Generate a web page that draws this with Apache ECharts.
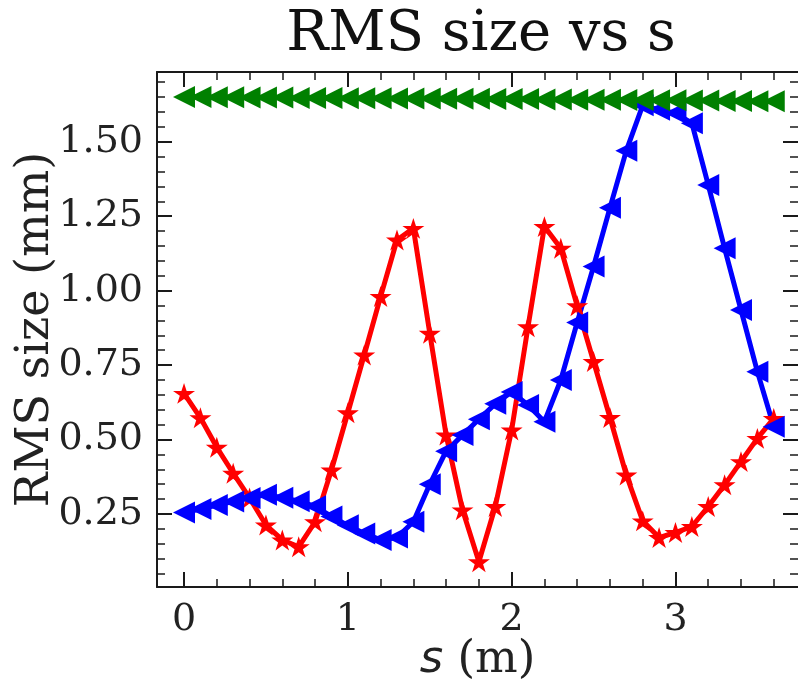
<!DOCTYPE html>
<html>
<head>
<meta charset="utf-8">
<script src="https://cdn.jsdelivr.net/npm/echarts@6/dist/echarts.min.js"></script>
<style>html,body{margin:0;padding:0;background:#fff;}#chart{width:798px;height:682px;}</style>
</head>
<body>
<div id="chart"></div>
<script>
// ---- data ----
const sPos = [0,0.1,0.2,0.3,0.4,0.5,0.6,0.7,0.8,0.9,1.0,1.1,1.2,1.3,1.4,1.5,1.6,1.7,1.8,1.9,2.0,2.1,2.2,2.3,2.4,2.5,2.6,2.7,2.8,2.9,3.0,3.1,3.2,3.3,3.4,3.5,3.6];
const redSize = [0.655,0.573,0.474,0.387,0.304,0.213,0.163,0.140,0.224,0.398,0.590,0.784,0.980,1.170,1.209,0.857,0.515,0.264,0.090,0.275,0.532,0.879,1.215,1.142,0.949,0.762,0.574,0.381,0.227,0.171,0.188,0.208,0.275,0.348,0.426,0.504,0.571];
const blueSize = [0.255,0.267,0.280,0.292,0.304,0.315,0.305,0.293,0.276,0.242,0.212,0.185,0.163,0.171,0.224,0.350,0.461,0.515,0.568,0.620,0.660,0.616,0.560,0.700,0.893,1.081,1.278,1.470,1.622,1.607,1.596,1.562,1.355,1.142,0.935,0.728,0.543];
const greenSize = [1.650,1.650,1.649,1.649,1.648,1.648,1.648,1.647,1.647,1.647,1.646,1.646,1.646,1.645,1.645,1.645,1.644,1.644,1.644,1.643,1.643,1.643,1.642,1.642,1.641,1.641,1.641,1.640,1.640,1.639,1.639,1.638,1.638,1.637,1.637,1.636,1.636];
const xMajorTicks = [0,1,2,3];
const xMinorTicks = [0.2,0.4,0.6,0.8,1.2,1.4,1.6,1.8,2.2,2.4,2.6,2.8,3.2,3.4,3.6];
const yMajorTicks = [0.25,0.5,0.75,1.0,1.25,1.5];
const yMinorTicks = [0.05,0.1,0.15,0.2,0.3,0.35,0.4,0.45,0.55,0.6,0.65,0.7,0.8,0.85,0.9,0.95,1.05,1.1,1.15,1.2,1.3,1.35,1.4,1.45,1.55,1.6,1.65,1.7];
const xRange = [-0.165, 3.748];
const yRange = [0.005, 1.734];

const FONT = 'DejaVu Serif';
const AX = '#1a1a1a';
const starPath = 'path://M0 -100 L22.45 -30.9 L95.1 -30.9 L36.3 11.8 L58.8 80.9 L0 38.2 L-58.8 80.9 L-36.3 11.8 L-95.1 -30.9 L-22.45 -30.9 Z';

function mkAxis(dim, pos, ticks, len, width, showLine, opts) {
  const r = dim === 'x' ? xRange : yRange;
  return Object.assign({
    type: 'value', position: pos, min: r[0], max: r[1],
    axisLine: {show: showLine, onZero: false, lineStyle: {color: AX, width: 2}},
    axisTick: {show: true, inside: true, length: len, customValues: ticks, lineStyle: {color: AX, width: width}},
    axisLabel: {show: false},
    splitLine: {show: false},
    minorTick: {show: false}
  }, opts || {});
}

const xAxes = [
  mkAxis('x', 'bottom', xMajorTicks, 15, 2, true, {
    axisLabel: {show: true, customValues: xMajorTicks, fontFamily: FONT, fontSize: 38, color: '#222', margin: 14},
    name: '{it|s} (m)', nameLocation: 'middle', nameGap: 51, nameMoveOverlap: false,
    nameTextStyle: {fontFamily: FONT, fontSize: 45, color: '#222',
      rich: {it: {fontFamily: 'DejaVu Sans', fontStyle: 'italic', fontSize: 45, color: '#222'}}}
  }),
  mkAxis('x', 'bottom', xMinorTicks, 8, 1.5, false),
  mkAxis('x', 'top', xMajorTicks, 15, 2, true),
  mkAxis('x', 'top', xMinorTicks, 8, 1.5, false)
];
const yAxes = [
  mkAxis('y', 'left', yMajorTicks, 15, 2, true, {
    axisLabel: {show: true, customValues: yMajorTicks, fontFamily: FONT, fontSize: 38, color: '#222', margin: 14,
      formatter: v => v.toFixed(2)},
    name: 'RMS size (mm)', nameLocation: 'middle', nameGap: 98, nameMoveOverlap: false,
    nameTextStyle: {fontFamily: FONT, fontSize: 46, color: '#222'}
  }),
  mkAxis('y', 'left', yMinorTicks, 8, 1.5, false),
  mkAxis('y', 'right', yMajorTicks, 15, 2, false),
  mkAxis('y', 'right', yMinorTicks, 8, 1.5, false)
];

const chart = echarts.init(document.getElementById('chart'), null, {renderer: 'canvas'});
chart.setOption({
  animation: false,
  backgroundColor: '#fff',
  title: {text: 'RMS size vs s', left: 476, textAlign: 'center', top: 2,
    textStyle: {fontFamily: FONT, fontSize: 56, fontWeight: 'normal', color: '#111'}},
  grid: {left: 157, top: 72, width: 641, height: 515, outerBoundsMode: 'none'},
  xAxis: xAxes,
  yAxis: yAxes,
  series: [
    {type: 'line', name: 'red', xAxisIndex: 0, yAxisIndex: 0,
      data: sPos.map((x, i) => [x, redSize[i]]),
      lineStyle: {color: '#ff0000', width: 5}, itemStyle: {color: '#ff0000'},
      symbol: starPath, symbolSize: 22, symbolKeepAspect: true, showAllSymbol: true},
    {type: 'line', name: 'blue', xAxisIndex: 0, yAxisIndex: 0,
      data: sPos.map((x, i) => [x, blueSize[i]]),
      lineStyle: {color: '#0000ff', width: 5}, itemStyle: {color: '#0000ff'},
      symbol: 'triangle', symbolRotate: 90, symbolSize: [22, 22], showAllSymbol: true},
    {type: 'line', name: 'green', xAxisIndex: 0, yAxisIndex: 0,
      data: sPos.map((x, i) => [x, greenSize[i]]),
      lineStyle: {color: '#008000', width: 5}, itemStyle: {color: '#008000'},
      symbol: 'triangle', symbolRotate: 90, symbolSize: [22, 22], showAllSymbol: true}
  ]
});
</script>
</body>
</html>
